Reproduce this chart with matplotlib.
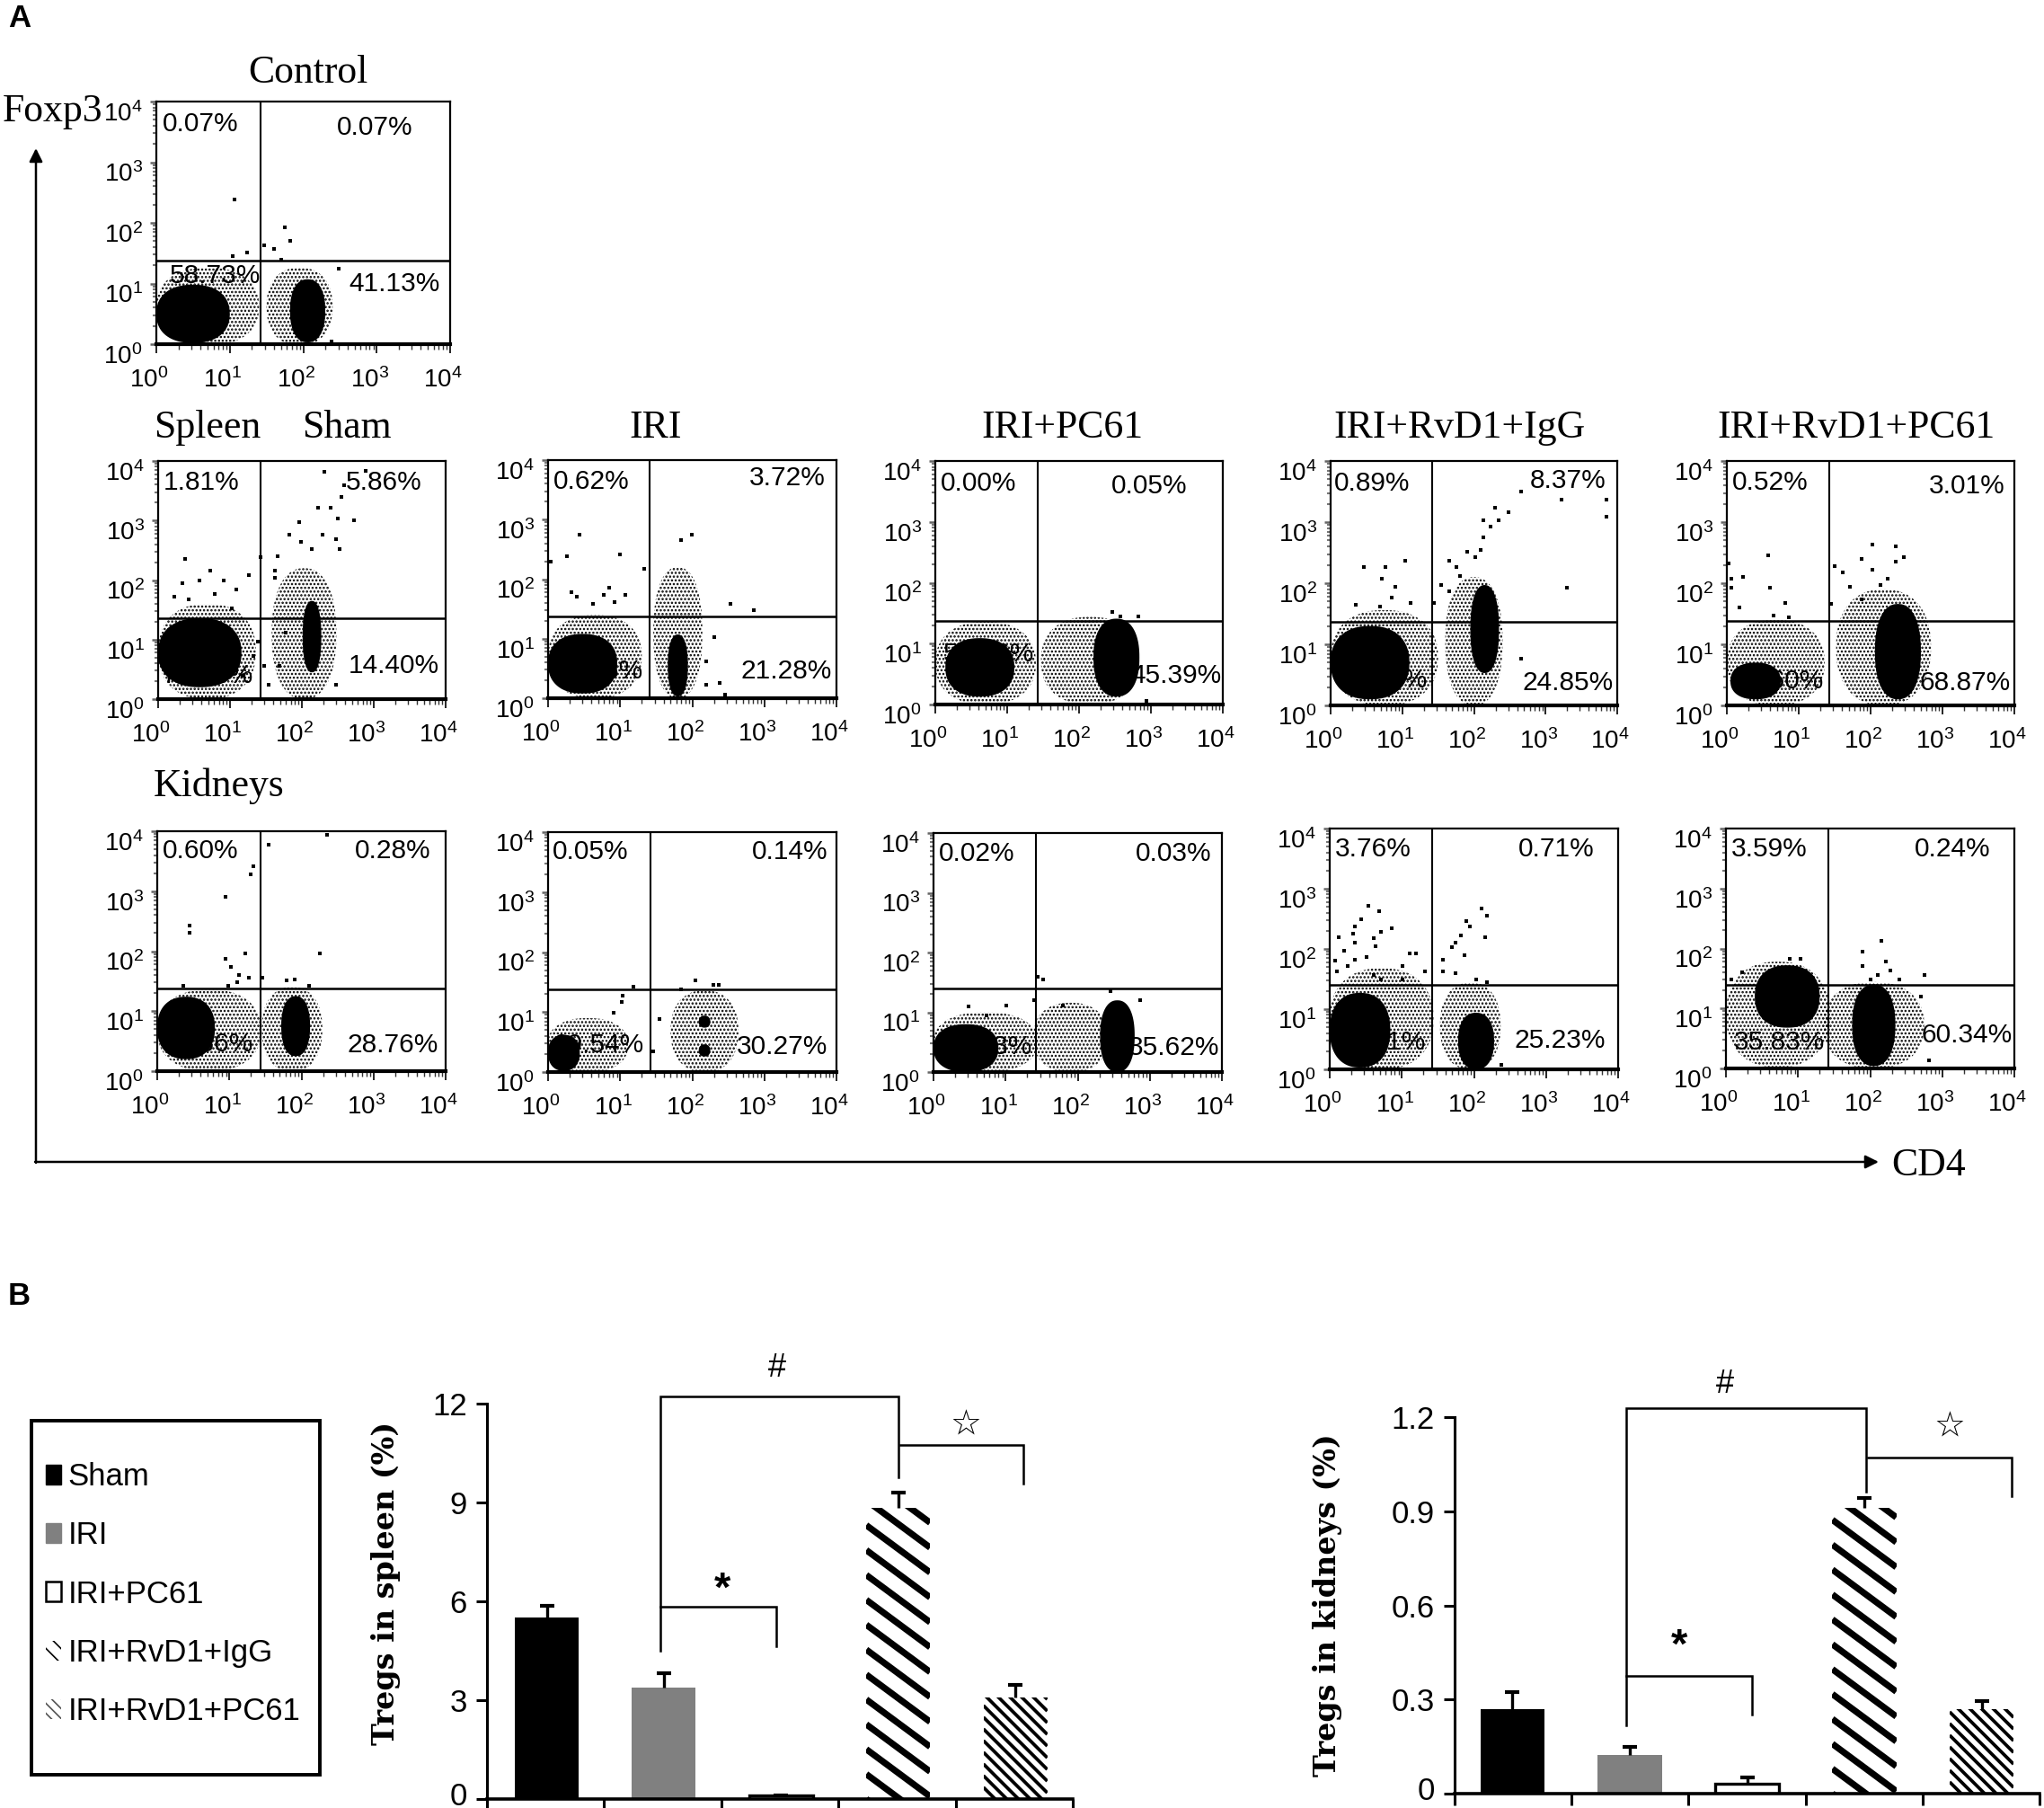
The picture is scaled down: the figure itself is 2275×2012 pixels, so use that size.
import numpy as np
import matplotlib
matplotlib.use("Agg")
import matplotlib.pyplot as plt
from matplotlib.lines import Line2D
from matplotlib.patches import Patch, Rectangle
from matplotlib.transforms import ScaledTranslation, IdentityTransform
from matplotlib.ticker import LogLocator, NullFormatter

W, H = 2275, 2012
plt.rcParams['font.family'] = ['Liberation Sans', 'DejaVu Sans']
plt.rcParams['hatch.linewidth'] = 1.2

# ---------- bar data ----------
GROUPS = ['Sham', 'IRI', 'IRI+PC61', 'IRI+RvD1+IgG', 'IRI+RvD1+PC61']
SPLEEN_VALUES = [5.50, 3.37, 0.12, 8.85, 3.09]
SPLEEN_ERRORS = [0.36, 0.45, 0.0, 0.45, 0.37]
KIDNEY_VALUES = [0.268, 0.122, 0.031, 0.912, 0.268]
KIDNEY_ERRORS = [0.056, 0.027, 0.020, 0.029, 0.026]
SPLEEN_TICKS = [0, 3, 6, 9, 12]
KIDNEY_TICKS = [0, 0.3, 0.6, 0.9, 1.2]
KIDNEY_TICK_LABELS = ['0', '0.3', '0.6', '0.9', '1.2']

# ---------- flow cytometry: log10 positions ----------
# each population: (centre x, centre y, half width, half height) in decades
CTRL_CORE = [(0.50, 0.50, 0.50, 0.48), (2.06, 0.55, 0.24, 0.52)]
CTRL_HALO = [(0.70, 0.62, 0.70, 0.64), (1.95, 0.62, 0.45, 0.64)]
CTRL_DOTS = [(1.07, 2.38), (1.75, 1.92), (1.82, 1.71), (1.47, 1.63), (1.6, 1.57), (1.7, 1.4), (1.04, 1.45),
             (1.23, 1.51), (2.48, 1.24), (2.39, 0.05)]

SP_SHAM_CORE = [(0.58, 0.78, 0.58, 0.58), (2.14, 1.05, 0.13, 0.60)]
SP_SHAM_HALO = [(0.68, 0.80, 0.68, 0.80), (2.03, 1.10, 0.45, 1.10)]
SP_SHAM_DOTS = [(2.31, 3.82), (2.59, 3.6), (2.89, 3.84), (2.55, 3.4), (2.22, 3.22), (2.4, 3.22), (2.5, 3.04),
                (2.73, 3.0), (1.96, 2.98), (1.82, 2.76), (2.29, 2.76), (2.48, 2.68), (1.99, 2.64), (2.14, 2.52),
                (2.52, 2.52), (1.66, 2.4), (1.42, 2.38), (0.38, 2.36), (0.72, 2.16), (0.34, 1.94), (0.58, 2.0),
                (0.91, 2.0), (1.26, 2.08), (0.42, 1.68), (0.79, 1.76), (1.09, 1.84), (0.23, 1.72), (1.02, 1.52),
                (1.62, 2.16), (1.63, 2.04), (1.39, 0.96), (1.47, 0.56), (1.54, 0.24), (2.48, 0.24), (1.77, 1.12),
                (1.69, 0.56), (1.17, 0.4), (1.32, 0.72)]

SP_IRI_CORE = [(0.48, 0.58, 0.48, 0.50), (1.80, 0.55, 0.14, 0.52)]
SP_IRI_HALO = [(0.65, 0.70, 0.65, 0.70), (1.80, 1.10, 0.34, 1.10)]
SP_IRI_DOTS = [(0.43, 2.74), (0.26, 2.38), (0.04, 2.3), (1, 2.42), (1.33, 2.17), (1.99, 2.74), (1.84, 2.66),
               (0.32, 1.78), (0.4, 1.7), (0.85, 1.86), (0.77, 1.74), (1.07, 1.74), (0.92, 1.62), (0.62, 1.58),
               (2.53, 1.58), (2.85, 1.48), (2.31, 1.02), (2.38, 0.25), (2.46, 0.06), (2.19, 0.62), (2.19, 0.22)]

SP_PC61_CORE = [(0.62, 0.61, 0.48, 0.48), (2.52, 0.77, 0.32, 0.64)]
SP_PC61_HALO = [(0.70, 0.68, 0.70, 0.68), (2.15, 0.72, 0.68, 0.72)]
SP_PC61_DOTS = [(2.46, 1.52), (2.58, 1.45), (2.83, 1.45), (2.94, 0.06)]

SP_IGG_CORE = [(0.55, 0.70, 0.55, 0.60), (2.15, 1.25, 0.20, 0.72)]
SP_IGG_HALO = [(0.75, 0.78, 0.75, 0.78), (2.00, 1.05, 0.40, 1.05)]
SP_IGG_DOTS = [(2.66, 3.5), (3.22, 3.37), (3.85, 3.37), (3.85, 3.09), (2.29, 3.23), (2.48, 3.16), (2.13, 3.03),
               (2.34, 3.03), (2.23, 2.92), (2.13, 2.75), (2.1, 2.55), (1.91, 2.52), (1.65, 2.37), (1.76, 2.27),
               (2.02, 2.42), (0.46, 2.27), (0.77, 2.27), (1.04, 2.37), (0.71, 2.08), (0.9, 1.94), (3.3, 1.92),
               (0.85, 1.77), (0.35, 1.64), (1.12, 1.67), (0.69, 1.62), (2.66, 0.77), (1.54, 1.97), (1.44, 1.67),
               (1.65, 1.87), (1.81, 2.12)]

SP_RVD_CORE = [(0.40, 0.40, 0.35, 0.30), (2.38, 0.88, 0.32, 0.78)]
SP_RVD_HALO = [(0.68, 0.70, 0.68, 0.70), (2.18, 0.95, 0.66, 0.95)]
SP_RVD_DOTS = [(2.03, 2.63), (2.35, 2.6), (2.46, 2.42), (0.57, 2.46), (0.03, 2.32), (1.5, 2.28), (1.87, 2.39),
               (1.61, 2.17), (0.22, 2.1), (0.06, 2.07), (2.03, 2.22), (2.35, 2.35), (2.14, 1.97), (2.24, 2.07),
               (0.06, 1.92), (0.6, 1.93), (0.17, 1.61), (0.81, 1.67), (1.71, 1.94), (1.87, 1.74), (1.45, 1.66),
               (0.65, 1.47), (0.86, 1.44), (2.56, 1.47)]

KD_SHAM_CORE = [(0.40, 0.72, 0.40, 0.52), (1.92, 0.75, 0.20, 0.50)]
KD_SHAM_HALO = [(0.72, 0.68, 0.72, 0.68), (1.87, 0.70, 0.42, 0.70)]
KD_SHAM_DOTS = [(1.54, 3.77), (2.36, 3.94), (1.33, 3.42), (1.3, 3.28), (0.95, 2.91), (0.45, 2.42), (0.45, 2.31),
                (0.95, 1.88), (1.22, 1.96), (2.25, 1.96), (1.02, 1.74), (1.13, 1.61), (1.27, 1.56), (1.46, 1.56),
                (1.79, 1.51), (1.91, 1.53), (0.36, 1.43), (1.11, 1.48), (2.11, 1.43), (0.99, 1.43)]

KD_IRI_CORE = [(0.22, 0.32, 0.22, 0.30), (2.17, 0.84, 0.08, 0.10), (2.17, 0.36, 0.08, 0.10)]
KD_IRI_HALO = [(0.55, 0.45, 0.56, 0.45), (2.17, 0.68, 0.47, 0.68)]
KD_IRI_DOTS = [(2.04, 1.53), (2.29, 1.45), (2.37, 1.45), (1.19, 1.42), (1.04, 1.27), (1.02, 1.17), (0.91, 0.99),
               (1.85, 1.38), (1.46, 0.34), (1.54, 0.89)]

KD_PC61_CORE = [(0.45, 0.40, 0.45, 0.40), (2.55, 0.60, 0.24, 0.60)]
KD_PC61_HALO = [(0.72, 0.50, 0.72, 0.50), (1.90, 0.58, 0.52, 0.58)]
KD_PC61_DOTS = [(1.44, 1.6), (1.52, 1.55), (2.45, 1.35), (0.48, 1.1), (1.01, 1.12), (1.39, 1.2), (1.79, 1.12),
                (0.73, 0.94), (2.86, 1.2)]

KD_IGG_CORE = [(0.42, 0.65, 0.42, 0.62), (2.03, 0.47, 0.25, 0.47)]
KD_IGG_HALO = [(0.72, 0.84, 0.72, 0.84), (1.95, 0.72, 0.42, 0.72)]
KD_IGG_DOTS = [(0.54, 2.71), (0.68, 2.63), (0.44, 2.5), (0.35, 2.38), (0.86, 2.35), (0.71, 2.28), (0.32, 2.25),
               (0.13, 2.19), (0.61, 2.18), (0.35, 2.1), (0.63, 2.05), (0.2, 1.97), (1.11, 1.92), (1.2, 1.92),
               (0.08, 1.8), (0.35, 1.82), (0.51, 1.87), (0.61, 1.57), (0.71, 1.5), (1.01, 1.72), (1.32, 1.62),
               (0.1, 1.62), (0.25, 1.72), (1.01, 1.5), (2.11, 2.67), (2.18, 2.55), (1.9, 2.46), (1.95, 2.38),
               (1.82, 2.23), (2.16, 2.19), (1.74, 2.1), (1.7, 2.03), (1.87, 1.9), (1.57, 1.82), (1.57, 1.62),
               (1.74, 1.6), (2.03, 1.5), (2.18, 1.45), (2.38, 0.08)]

KD_RVD_CORE = [(0.85, 1.20, 0.45, 0.52), (2.05, 0.72, 0.30, 0.68)]
KD_RVD_HALO = [(0.72, 0.90, 0.72, 0.88), (2.05, 0.72, 0.70, 0.72)]
KD_RVD_DOTS = [(2.15, 2.13), (1.89, 1.95), (2.22, 1.79), (1.89, 1.71), (0.88, 1.83), (1.03, 1.83), (2.28, 1.63),
               (2.76, 1.56), (2.1, 1.56), (2.0, 1.48), (2.4, 1.48), (0.22, 1.6), (0.07, 1.48), (2.81, 0.13),
               (2.7, 1.2)]

# quadrant percentages: upper left, upper right, lower left, lower right
CTRL_PCT = ['0.07%', '0.07%', '58.73%', '41.13%']
SP_SHAM_PCT = ['1.81%', '5.86%', '77.93%', '14.40%']
SP_IRI_PCT = ['0.62%', '3.72%', '74.38%', '21.28%']
SP_PC61_PCT = ['0.00%', '0.05%', '54.56%', '45.39%']
SP_IGG_PCT = ['0.89%', '8.37%', '65.89%', '24.85%']
SP_RVD_PCT = ['0.52%', '3.01%', '27.60%', '68.87%']
KD_SHAM_PCT = ['0.60%', '0.28%', '70.36%', '28.76%']
KD_IRI_PCT = ['0.05%', '0.14%', '69.54%', '30.27%']
KD_PC61_PCT = ['0.02%', '0.03%', '64.33%', '35.62%']
KD_IGG_PCT = ['3.76%', '0.71%', '70.31%', '25.23%']
KD_RVD_PCT = ['3.59%', '0.24%', '35.83%', '60.34%']

# ---------- layout (pixels) ----------
# box L,R,T,B ; gate x,y ; label centres UL, UR, LL (right end), LR
PANELS = [
    ((174, 501, 113, 383), (290, 290), ((223, 138), (417, 142), (290, 307), (439, 316)), CTRL_CORE, CTRL_HALO, CTRL_DOTS, CTRL_PCT),
    ((176, 496, 513, 778), (290, 688), ((224, 537), (427, 537), (282, 752), (438, 741)), SP_SHAM_CORE, SP_SHAM_HALO, SP_SHAM_DOTS, SP_SHAM_PCT),
    ((610, 931, 512, 777), (723, 686), ((658, 536), (876, 532), (716, 747), (875, 747)), SP_IRI_CORE, SP_IRI_HALO, SP_IRI_DOTS, SP_IRI_PCT),
    ((1041, 1361, 513, 784), (1155, 691), ((1089, 538), (1279, 541), (1151, 728), (1309, 752)), SP_PC61_CORE, SP_PC61_HALO, SP_PC61_DOTS, SP_PC61_PCT),
    ((1481, 1800, 513, 785), (1594, 692), ((1527, 538), (1745, 535), (1589, 757), (1745, 760)), SP_IGG_CORE, SP_IGG_HALO, SP_IGG_DOTS, SP_IGG_PCT),
    ((1922, 2242, 513, 785), (2036, 691), ((1970, 537), (2189, 541), (2030, 758), (2187, 760)), SP_RVD_CORE, SP_RVD_HALO, SP_RVD_DOTS, SP_RVD_PCT),
    ((175, 496, 925, 1192), (290, 1100), ((223, 947), (437, 947), (282, 1162), (437, 1163)), KD_SHAM_CORE, KD_SHAM_HALO, KD_SHAM_DOTS, KD_SHAM_PCT),
    ((610, 931, 926, 1193), (724, 1101), ((657, 948), (879, 948), (717, 1163), (871, 1165)), KD_IRI_CORE, KD_IRI_HALO, KD_IRI_DOTS, KD_IRI_PCT),
    ((1039, 1360, 927, 1193), (1153, 1100), ((1087, 950), (1306, 950), (1149, 1165), (1307, 1166)), KD_PC61_CORE, KD_PC61_HALO, KD_PC61_DOTS, KD_PC61_PCT),
    ((1480, 1801, 922, 1190), (1594, 1096), ((1528, 945), (1732, 945), (1587, 1160), (1736, 1158)), KD_IGG_CORE, KD_IGG_HALO, KD_IGG_DOTS, KD_IGG_PCT),
    ((1921, 2242, 922, 1189), (2035, 1096), ((1969, 945), (2173, 945), (2031, 1160), (2189, 1152)), KD_RVD_CORE, KD_RVD_HALO, KD_RVD_DOTS, KD_RVD_PCT),
]

fig = plt.figure(figsize=(W / 100, H / 100), dpi=100, facecolor='white')

ov = fig.add_axes([0, 0, 1, 1], zorder=10)
ov.set_xlim(0, W)
ov.set_ylim(H, 0)
ov.axis('off')
ov.patch.set_alpha(0)


def axes_px(L, R, T, B):
    return fig.add_axes([L / W, 1 - B / H, (R - L) / W, (B - T) / H])


def blob(cx, cy, rx, ry, n=2.3):
    t = np.linspace(0, 2 * np.pi, 100)
    c, s = np.cos(t), np.sin(t)
    px = np.sign(c) * np.abs(c) ** (2 / n)
    py = np.sign(s) * np.abs(s) ** (2 / n)
    return 10 ** np.clip(cx + rx * px, 0, 4), 10 ** np.clip(cy + ry * py, 0, 4)


def flow_panel(box, gate, lab, core, halo, dots, pct):
    L, R, T, B = box
    ax = axes_px(L, R, T, B)
    ax.set_xscale('log')
    ax.set_yscale('log')
    ax.set_xlim(1, 1e4)
    ax.set_ylim(1, 1e4)
    for h in halo:
        x, y = blob(*h)
        ax.fill(x, y, facecolor='none', edgecolor='black', hatch='....', linewidth=0, zorder=2)
    for c in core:
        x, y = blob(*c)
        ax.fill(x, y, color='black', linewidth=0, zorder=3)
    d = np.array(dots)
    ax.plot(10 ** d[:, 0], 10 ** d[:, 1], 's', color='black', ms=2.3, mew=0, zorder=3, clip_on=False)
    gx = 10 ** ((gate[0] - L) / (R - L) * 4)
    gy = 10 ** ((B - gate[1]) / (B - T) * 4)
    ax.axvline(gx, color='black', lw=1.5, zorder=4)
    ax.axhline(gy, color='black', lw=1.8, zorder=4)
    for s in ax.spines.values():
        s.set_linewidth(1.6)
    ax.spines['bottom'].set_linewidth(3)
    major = [1, 10, 100, 1000, 10000]
    labels = [r'$\mathregular{10^{%d}}$' % k for k in range(5)]
    for axis in (ax.xaxis, ax.yaxis):
        axis.set_major_locator(plt.FixedLocator(major))
        axis.set_minor_locator(LogLocator(base=10, subs=range(2, 10)))
        axis.set_minor_formatter(NullFormatter())
    ax.set_xticklabels(labels, fontsize=20)
    ax.set_yticklabels(labels, fontsize=20)
    ax.tick_params(axis='x', which='major', length=7, width=1.2, pad=12)
    ax.tick_params(axis='x', which='minor', length=4, width=1.0, color='#333333')
    ax.tick_params(axis='y', which='major', length=5, width=1.8, pad=6, color='#666666')
    ax.tick_params(axis='y', which='minor', length=3, width=1.5, color='#777777')
    xoff = ScaledTranslation(-8 / 100, 0, fig.dpi_scale_trans)
    yoff = ScaledTranslation(0, -11 / 100, fig.dpi_scale_trans)
    for t in ax.get_xticklabels():
        t.set_transform(t.get_transform() + xoff)
    for t in ax.get_yticklabels():
        t.set_transform(t.get_transform() + yoff)
    kw = dict(transform=ax.transAxes, fontsize=21.5, va='center')
    for i, (px, py) in enumerate(lab):
        fx, fy = (px - L) / (R - L), (B - py) / (B - T)
        if i == 2:
            ax.text(fx, fy, pct[i], ha='right', zorder=1, **kw)
        else:
            ax.text(fx, fy, pct[i], ha='center', zorder=5, **kw)
    return ax


for p in PANELS:
    flow_panel(*p)

# ---------- section labels and titles ----------
SERIF = 'Liberation Serif'
TITLE_SIZE = 31.5
for s, x, y in [('Control', 343, 81), ('IRI', 730, 476), ('IRI+PC61', 1182, 476), ('IRI+RvD1+IgG', 1624, 476),
                ('IRI+RvD1+PC61', 2066, 476), ('Sham', 386, 476), ('Foxp3', 59, 124)]:
    ov.text(x, y, s, family=SERIF, fontsize=TITLE_SIZE, ha='center', va='center')
ov.text(171, 476, 'Spleen', family=SERIF, fontsize=TITLE_SIZE, ha='left', va='center')
ov.text(171, 875, 'Kidneys', family=SERIF, fontsize=TITLE_SIZE, ha='left', va='center')
ov.text(2105, 1297, 'CD4', family=SERIF, fontsize=TITLE_SIZE, ha='left', va='center')
ov.text(9, 20, 'A', fontsize=25, ha='left', va='center', fontweight='bold')
ov.text(9, 1443, 'B', fontsize=25, ha='left', va='center', fontweight='bold')

arrow = dict(arrowstyle='-|>', lw=1.8, color='black', facecolor='white', mutation_scale=22, shrinkA=0, shrinkB=0)
ov.annotate('', xy=(40, 165), xytext=(40, 1294), arrowprops=arrow)
ov.annotate('', xy=(2091, 1293), xytext=(39, 1293), arrowprops=arrow)

# ---------- legend ----------
ov.add_patch(Rectangle((35, 1581), 321, 394, facecolor='none', edgecolor='black', lw=2.8))
handles = [Patch(facecolor='black', edgecolor='black'),
           Patch(facecolor='#808080', edgecolor='#808080'),
           Patch(facecolor='white', edgecolor='black', lw=1.8),
           Patch(facecolor='white', edgecolor='black', hatch='\\\\', lw=0),
           Patch(facecolor='white', edgecolor='#555555', hatch='\\\\\\', lw=0)]
fig.legend(handles, GROUPS, loc='upper left', bbox_to_anchor=(51 / W, 1 - 1627 / H), frameon=False,
           fontsize=25, borderpad=0, borderaxespad=0, handlelength=0.5, handleheight=0.6, handletextpad=0.2,
           labelspacing=0.93)


# ---------- bars ----------
def stripes(ax, bar, period, lw, slope):
    x0, y0 = ax.transData.transform((bar.get_x(), 0))
    x1, y1 = ax.transData.transform((bar.get_x() + bar.get_width(), bar.get_height()))
    w = x1 - x0
    c = y0
    while c < y1 + abs(slope) * w:
        ln = Line2D([x0, x1], [c, c + slope * w], transform=IdentityTransform(), color='black', lw=lw,
                    solid_capstyle='butt', zorder=3)
        ax.add_artist(ln)
        ln.set_clip_path(bar)
        c += period


def bar_chart(box, xlim, ylim, values, errors, ticks, ticklabels, capw, ylabel, ylx, yly, ylsize, brackets, marks):
    ax = axes_px(*box)
    ax.set_xlim(*xlim)
    ax.set_ylim(*ylim)
    pos = np.arange(len(values))
    bars = ax.bar(pos, values, width=0.545, color=['black', '#808080', 'white', 'white', 'white'], linewidth=0, zorder=2)
    bars[2].set_edgecolor('black')
    bars[2].set_linewidth(2.4)
    stripes(ax, bars[3], 27.7, 5.2, -0.74)
    stripes(ax, bars[4], 13, 2.7, -1.0)
    eb = ax.errorbar(pos, values, yerr=[np.zeros(5), errors], fmt='none', ecolor='black', elinewidth=2.4,
                     capsize=capw, capthick=3, zorder=4)
    eb[1][0].set_visible(False)
    for s in ('top', 'right'):
        ax.spines[s].set_visible(False)
    ax.spines['left'].set_linewidth(2.2)
    ax.spines['bottom'].set_linewidth(2.6)
    ax.set_xticks(xlim[0] + np.arange(6) * (xlim[1] - xlim[0]) / 5)
    ax.set_xticklabels([])
    ax.set_yticks(ticks)
    ax.set_yticklabels(ticklabels, fontsize=25)
    ax.tick_params(axis='both', length=9, width=2.2, pad=7)
    lift = ScaledTranslation(0, 6 / 100, fig.dpi_scale_trans)
    zero_label = ax.get_yticklabels()[0]
    zero_label.set_transform(zero_label.get_transform() + lift)
    for xs, ys in brackets:
        ax.plot(xs, ys, color='black', lw=1.8, clip_on=False, zorder=5, solid_joinstyle='miter')
    ov.text(ylx, yly, ylabel, family='DejaVu Serif', fontweight='bold', fontsize=ylsize, rotation=90,
            ha='center', va='center')
    for s, x, y, fam, size, wt in marks:
        ov.text(x, y, s, family=fam, fontsize=size, fontweight=wt, ha='center', va='center')
    return ax


SPLEEN_BRACKETS = [([0.97, 0.97, 3.005, 3.005], [4.49, 12.22, 12.22, 9.76]),
                   ([0.97, 1.96, 1.96], [5.84, 5.84, 4.64]),
                   ([3.02, 4.07, 4.07], [10.74, 10.74, 9.57])]
KIDNEY_BRACKETS = [([0.97, 0.97, 3.015, 3.015], [0.217, 1.228, 1.228, 0.963]),
                   ([0.97, 2.04, 2.04], [0.375, 0.375, 0.253]),
                   ([3.03, 4.26, 4.26], [1.072, 1.072, 0.949])]

bar_chart((542, 1194, 1562, 2002), (-0.51, 4.49), (0, 12), SPLEEN_VALUES, SPLEEN_ERRORS, SPLEEN_TICKS,
          [str(t) for t in SPLEEN_TICKS], 5.5, 'Tregs in spleen (%)', 430, 1762, 24, SPLEEN_BRACKETS,
          [('#', 865, 1522, 'Liberation Sans', 26, 'normal'), ('*', 804, 1770, 'Liberation Sans', 34, 'bold'),
           ('☆', 1075, 1585, 'DejaVu Sans', 28, 'bold')])
bar_chart((1619, 2270, 1577, 1996), (-0.494, 4.494), (0, 1.2), KIDNEY_VALUES, KIDNEY_ERRORS, KIDNEY_TICKS,
          KIDNEY_TICK_LABELS, 5.5, 'Tregs in kidneys (%)', 1478, 1786, 24, KIDNEY_BRACKETS,
          [('#', 1920, 1541, 'Liberation Sans', 26, 'normal'), ('*', 1869, 1833, 'Liberation Sans', 34, 'bold'),
           ('☆', 2170, 1587, 'DejaVu Sans', 28, 'bold')])

fig.savefig('out.png', dpi=100, facecolor='white')
